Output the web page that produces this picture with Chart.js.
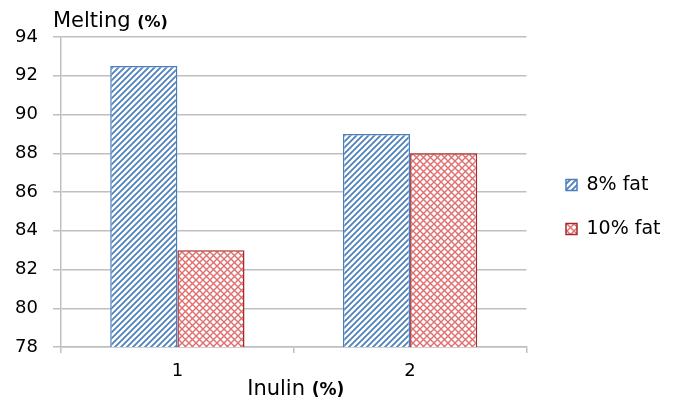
<!DOCTYPE html>
<html lang="en">
<head>
    <meta charset="UTF-8">
    <title>Melting</title>
    <script src="https://cdn.jsdelivr.net/npm/chart.js"></script>
    <style>
        body { margin: 0; background: #fff; }
        #wrap { width: 676px; height: 401px; position: relative; }
    </style>
</head>
<body>
    <div id="wrap">
        <canvas id="grafico"></canvas>
    </div>

<script>
    // dados
    const categorias = ['1', '2'];
    const nomesSeries = ['8% fat', '10% fat'];
    const gordura8 = [92.5, 89];
    const gordura10 = [83, 88];
    const yMin = 78;
    const yMax = 94;
    const yPasso = 2;

    const fonte = 'DejaVu Sans';

    // hachura azul "/"
    function padraoListras() {
        const s = 6;
        const c = document.createElement('canvas');
        c.width = s; c.height = s;
        const ctx = c.getContext('2d');
        ctx.fillStyle = '#fff';
        ctx.fillRect(0, 0, s, s);
        ctx.strokeStyle = '#4f81bd';
        ctx.lineWidth = 1.8;
        ctx.beginPath();
        ctx.moveTo(0, s); ctx.lineTo(s, 0);
        ctx.moveTo(-1, 1); ctx.lineTo(1, -1);
        ctx.moveTo(s - 1, s + 1); ctx.lineTo(s + 1, s - 1);
        ctx.stroke();
        return ctx.createPattern(c, 'repeat');
    }

    // quadriculado vermelho
    function padraoXadrez() {
        const s = 7;
        const c = document.createElement('canvas');
        c.width = s; c.height = s;
        const ctx = c.getContext('2d');
        ctx.fillStyle = '#fff';
        ctx.fillRect(0, 0, s, s);
        ctx.strokeStyle = '#e06e6e';
        ctx.lineWidth = 1.4;
        ctx.beginPath();
        ctx.moveTo(0, 0); ctx.lineTo(s, s);
        ctx.moveTo(0, s); ctx.lineTo(s, 0);
        ctx.stroke();
        return ctx.createPattern(c, 'repeat');
    }

    // titulos dos eixos (com "(%)" em negrito)
    const titulosEixos = {
        id: 'titulosEixos',
        afterDraw(chart) {
            const ctx = chart.ctx;
            const area = chart.chartArea;
            ctx.save();
            ctx.fillStyle = '#000';
            ctx.textBaseline = 'alphabetic';

            // eixo y
            ctx.font = '21px "' + fonte + '"';
            let t1 = 'Melting ';
            ctx.textAlign = 'left';
            ctx.fillText(t1, area.left - 8, 27);
            let w1 = ctx.measureText(t1).width;
            ctx.font = 'bold 16px "' + fonte + '"';
            ctx.fillText('(%)', area.left - 8 + w1, 27);

            // eixo x
            ctx.font = '21px "' + fonte + '"';
            let t2 = 'Inulin ';
            let a = ctx.measureText(t2).width;
            ctx.font = 'bold 17px "' + fonte + '"';
            let b = ctx.measureText('(%)').width;
            let x0 = (area.left + area.right) / 2 + 2 - (a + b) / 2;
            ctx.font = '21px "' + fonte + '"';
            ctx.fillText(t2, x0, 395);
            ctx.font = 'bold 17px "' + fonte + '"';
            ctx.fillText('(%)', x0 + a, 395);
            ctx.restore();
        }
    };

    // empurra a legenda para a posicao do original
    const ajusteLegenda = {
        id: 'ajusteLegenda',
        afterLayout(chart) {
            const leg = chart.legend;
            const dx = 566 - (leg.left + 25);
            leg.left += dx; leg.right += dx;
            leg.top -= 12; leg.bottom -= 12;
        }
    };

    const dados = {
        labels: categorias,
        datasets: [
            {
                label: nomesSeries[0],
                data: gordura8,
                backgroundColor: padraoListras(),
                borderColor: '#4a7ebb',
                borderWidth: 1.5
            },
            {
                label: nomesSeries[1],
                data: gordura10,
                backgroundColor: padraoXadrez(),
                borderColor: '#a52a2a',
                borderWidth: 1.5
            }
        ]
    };

    const config = {
        type: 'bar',
        data: dados,
        options: {
            responsive: true,
            maintainAspectRatio: false,
            animation: false,
            layout: {
                padding: { top: 37, left: 14, right: 20, bottom: 0 }
            },
            datasets: {
                bar: {
                    categoryPercentage: 0.577,
                    barPercentage: 1
                }
            },
            plugins: {
                legend: {
                    position: 'right',
                    labels: {
                        color: '#000',
                        font: { family: fonte, size: 19 },
                        boxWidth: 11,
                        boxHeight: 11,
                        padding: 25
                    }
                },
                tooltip: { enabled: false },
                title: { display: false }
            },
            scales: {
                x: {
                    grid: {
                        offset: true,
                        drawOnChartArea: false,
                        color: '#bfbfbf',
                        lineWidth: 1.5,
                        tickLength: 6
                    },
                    border: { color: '#bfbfbf', width: 1.5 },
                    ticks: {
                        color: '#000',
                        font: { family: fonte, size: 18 },
                        padding: 8
                    },
                    afterFit(scale) { scale.height = 54; }
                },
                y: {
                    min: yMin,
                    max: yMax,
                    grid: {
                        color: '#bfbfbf',
                        lineWidth: 1.5,
                        tickLength: 8
                    },
                    border: { color: '#bfbfbf', width: 1.5 },
                    ticks: {
                        stepSize: yPasso,
                        color: '#000',
                        font: { family: fonte, size: 18 },
                        padding: 15
                    },
                    afterFit(scale) { scale.width = 47; }
                }
            }
        },
        plugins: [titulosEixos, ajusteLegenda]
    };

    let meuGrafico = new Chart(document.getElementById('grafico'), config);
</script>
</body>
</html>
